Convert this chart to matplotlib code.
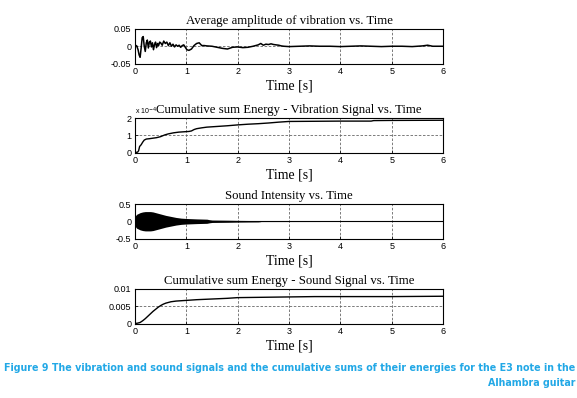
import matplotlib
matplotlib.use("Agg")
import matplotlib.pyplot as plt
from matplotlib import font_manager as fm

# ---------------- data ----------------
xticks = [0, 1, 2, 3, 4, 5, 6]

# Panel 1: average amplitude of vibration
t1 = [0.00,0.03,0.06,0.08,0.10,0.12,0.14,0.16,0.18,0.20,0.22,0.24,0.26,0.28,0.30,
      0.32,0.34,0.36,0.38,0.40,0.42,0.44,0.46,0.48,0.50,0.53,0.56,0.59,0.62,0.65,
      0.68,0.71,0.74,0.77,0.80,0.83,0.86,0.89,0.92,0.95,0.98,1.01,1.05,1.10,1.15,
      1.20,1.25,1.30,1.35,1.40,1.50,1.60,1.70,1.80,1.90,2.00,2.10,2.20,2.30,2.40,
      2.45,2.50,2.55,2.60,2.65,2.70,2.75,2.80,2.85,2.90,3.00,3.2,3.4,3.6,3.8,
      4.0,4.2,4.4,4.6,4.8,5.0,5.2,5.4,5.6,5.7,5.8,6.0]
v1 = [0.000,0.002,-0.010,-0.025,-0.032,-0.005,0.025,0.028,0.000,-0.015,
      0.010,0.018,-0.005,0.012,0.015,-0.002,0.010,-0.010,0.005,0.012,
      -0.004,0.008,0.002,0.012,0.010,0.003,0.015,0.008,0.012,0.002,
      0.010,0.000,0.006,-0.002,0.004,0.000,0.003,-0.003,0.002,0.004,
      -0.003,-0.010,-0.012,-0.008,0.002,0.008,0.010,0.002,0.002,0.001,
      0.000,-0.003,-0.006,-0.008,-0.003,-0.002,-0.004,-0.003,0.000,0.004,
      0.008,0.003,0.006,0.005,0.007,0.005,0.004,0.003,0.001,0.000,
      -0.001,0.000,0.001,0.000,0.000,-0.001,0.000,0.001,0.000,-0.001,
      0.000,0.000,-0.001,0.001,0.003,0.000,0.000]

# Panel 2: cumulative energy of vibration signal (x 1e-4)
t2 = [0,0.05,0.07,0.09,0.12,0.15,0.18,0.22,0.28,0.35,0.42,0.5,0.58,0.65,0.75,
      0.85,0.95,1.05,1.1,1.15,1.2,1.3,1.4,1.6,1.8,2.0,2.2,2.4,2.6,2.8,
      3.0,3.5,4.0,4.6,4.65,5.0,6.0]
v2 = [0,0.02,0.1,0.35,0.45,0.6,0.72,0.78,0.8,0.83,0.86,0.92,1.02,1.08,1.14,
      1.18,1.2,1.22,1.25,1.33,1.38,1.43,1.47,1.51,1.55,1.6,1.64,1.67,1.71,1.76,
      1.8,1.81,1.82,1.82,1.85,1.86,1.87]

# Panel 3: sound intensity envelope (dense oscillation drawn as its envelope)
t3 = [0,0.03,0.1,0.15,0.2,0.25,0.3,0.35,0.4,0.5,0.6,0.7,0.8,0.9,1.0,
      1.2,1.4,1.45,1.5,1.8,2.0,2.2,2.4,2.45]
e3 = [0.14,0.2,0.25,0.27,0.28,0.28,0.28,0.27,0.25,0.21,0.17,0.14,0.11,0.09,0.08,
      0.068,0.06,0.045,0.035,0.03,0.025,0.022,0.02,0.012]
t3_tail = [2.45, 3.6]
e3_tail = [0.010, 0.008]

# Panel 4: cumulative energy of sound signal
t4 = [0,0.05,0.1,0.15,0.2,0.25,0.3,0.35,0.4,0.45,0.5,0.55,0.6,0.7,0.8,0.9,1.0,
      1.2,1.5,1.8,2.0,2.5,3.0,3.5,4.0,5.0,6.0]
v4 = [0,0.0001,0.0003,0.0008,0.0014,0.0021,0.0028,0.0035,0.0041,0.0047,0.0052,
      0.0056,0.0059,0.0063,0.0065,0.0066,0.0067,0.0069,0.0071,0.0073,0.0075,
      0.0076,0.0077,0.0078,0.0078,0.0078,0.0079]

titles = ["Average amplitude of vibration vs. Time",
          "Cumulative sum Energy - Vibration Signal vs. Time",
          "Sound Intensity vs. Time",
          "Cumulative sum Energy - Sound Signal vs. Time"]
yticks = [[-0.05, 0, 0.05], [0, 1, 2], [-0.5, 0, 0.5], [0, 0.005, 0.01]]
yticklabels = [["-0.05", "0", "0.05"], ["0", "1", "2"],
               ["-0.5", "0", "0.5"], ["0", "0.005", "0.01"]]
xlabel = "Time [s]"
caption1 = "Figure 9 The vibration and sound signals and the cumulative sums of their energies for the E3 note in the"
caption2 = "Alhambra guitar"

# ---------------- layout ----------------
W, H = 577, 398
fig = plt.figure(figsize=(W / 100, H / 100), dpi=100)
serif = "Liberation Serif"
sans = "Liberation Sans"

left_px, right_px = 135, 443
tops = [29, 118, 204, 289]
h_px = 34.5
axes = []
for top in tops:
    ax = fig.add_axes([left_px / W, 1 - (top + h_px) / H,
                       (right_px - left_px) / W, h_px / H])
    axes.append(ax)

for i, ax in enumerate(axes):
    ax.set_xlim(0, 6)
    ax.set_ylim(yticks[i][0], yticks[i][-1])
    ax.set_xticks(xticks)
    ax.set_xticklabels([str(x) for x in xticks], fontfamily=sans, fontsize=6.5)
    ax.set_yticks(yticks[i])
    ax.set_yticklabels(yticklabels[i], fontfamily=sans, fontsize=6.5)
    ax.tick_params(direction="in", length=2, width=0.5, pad=2.5)
    ax.grid(True, color="#666666", linestyle=(0, (3, 2)), linewidth=0.6)
    ax.set_axisbelow(True)
    for s in ax.spines.values():
        s.set_linewidth(0.8)
    ax.set_title(titles[i], fontfamily=serif, fontsize=9.2, pad=3.5)
    ax.set_xlabel(xlabel, fontfamily=serif, fontsize=10, labelpad=2.5)

axes[0].plot(t1, v1, color="black", linewidth=1.1)
axes[1].plot(t2, v2, color="black", linewidth=1.0)
axes[1].text(0.0, 1.03, r"x 10$^{-4}$", transform=axes[1].transAxes,
             fontfamily=sans, fontsize=5, ha="left", va="bottom")
neg3 = [-e for e in e3]
axes[2].fill_between(t3, neg3, e3, color="black", linewidth=0)
axes[2].fill_between(t3_tail, [-e for e in e3_tail], e3_tail, color="#555555", linewidth=0)
axes[2].plot([0, 6], [0, 0], color="black", linewidth=0.8)
axes[3].plot(t4, v4, color="black", linewidth=1.0)

# ---------------- caption ----------------
cap_color = "#22a8e6"
cap_font = None
for f in fm.fontManager.ttflist:
    fn = f.fname.lower()
    if ("narrow" in fn or "condensed" in fn) and ("bold" in fn) and "italic" not in fn and "oblique" not in fn:
        cap_font = fm.FontProperties(fname=f.fname)
        break
if cap_font is None:
    names = {f.name for f in fm.fontManager.ttflist}
    fam = "Roboto" if "Roboto" in names else "DejaVu Sans"
    cap_font = fm.FontProperties(family=fam, weight="bold")

cap_size = 9.5
t_cap = fig.text(575 / W, 1 - 368 / H, caption1, fontproperties=cap_font,
                 fontsize=cap_size, color=cap_color, ha="right", va="center")
fig.canvas.draw()
w = t_cap.get_window_extent().width
target = 572.0
if w > 0:
    cap_size = cap_size * target / w
    t_cap.set_fontsize(cap_size)
fig.text(575 / W, 1 - 383 / H, caption2, fontproperties=cap_font,
         fontsize=cap_size, color=cap_color, ha="right", va="center")

fig.savefig("out.png", dpi=100)
